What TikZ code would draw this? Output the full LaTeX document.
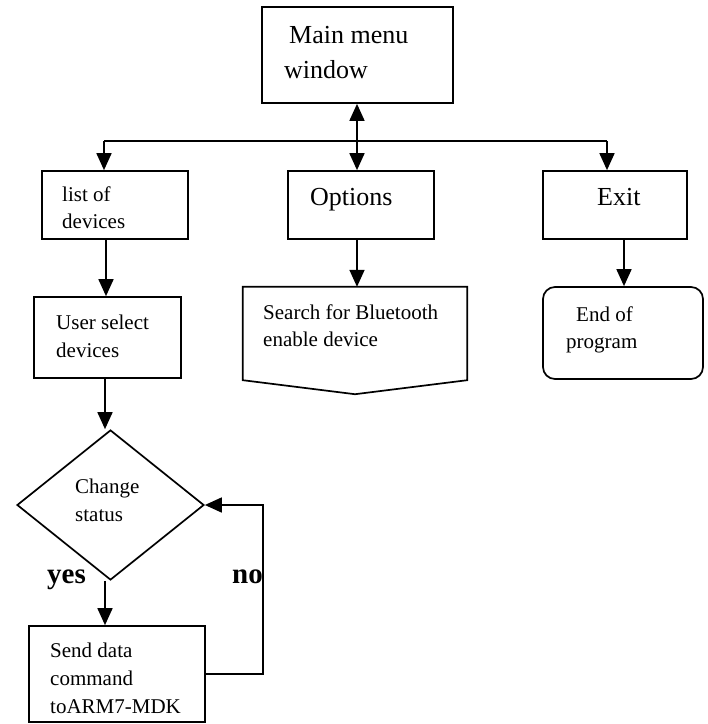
\documentclass[tikz,border=0pt]{standalone}
\usepackage{fontspec}
\setmainfont{Liberation Serif}
\usetikzlibrary{shapes.geometric,arrows.meta}
\begin{document}
\begin{tikzpicture}[x=1pt,y=-1pt,
  box/.style={draw, line width=1.7pt, inner sep=0pt},
  lbl/.style={anchor=base west, inner sep=0pt, font=\fontsize{21}{27}\selectfont},
  big/.style={anchor=base west, inner sep=0pt, font=\fontsize{26}{35}\selectfont},
  yn/.style={anchor=base west, inner sep=0pt, font=\bfseries\fontsize{29}{35}\selectfont},
  arr/.style={line width=1.7pt, -{Triangle[length=17pt,width=15pt]}},
  darr/.style={line width=1.7pt, {Triangle[length=17pt,width=15pt]}-{Triangle[length=17pt,width=15pt]}},
  line/.style={line width=1.7pt}
]
\useasboundingbox (0,0) rectangle (708,724);

% boxes
\node[box, minimum width=191pt, minimum height=96pt] (main) at (357.5,55) {};
\node[box, minimum width=146pt, minimum height=68pt] (list) at (115,205) {};
\node[box, minimum width=146pt, minimum height=68pt] (options) at (361,205) {};
\node[box, minimum width=144pt, minimum height=68pt] (exit) at (615,205) {};
\node[box, minimum width=147pt, minimum height=81pt] (user) at (107.5,337.5) {};
\node[inner sep=0pt, minimum width=224pt, minimum height=107pt] (search) at (355,340.5) {};
\draw[line] (search.north west) -- (search.north east) -- ([yshift=14pt]search.south east)
  -- (search.south) -- ([yshift=14pt]search.south west) -- cycle;
\node[box, rounded corners=12pt, minimum width=160pt, minimum height=92pt] (endp) at (623,333) {};
\node[box, shape=diamond, minimum width=187pt, minimum height=150pt] (dia) at (110.5,505) {};
\node[box, minimum width=176pt, minimum height=96pt] (send) at (117,674) {};

% texts
\node[big] (tmain1) at (289,43) {Main menu};
\node[big] (tmain2) at (284,78) {window};
\node[lbl] (tlist1) at (62,201) {list of};
\node[lbl] (tlist2) at (62,228) {devices};
\node[big] (topt) at (310,205) {Options};
\node[big] (texit) at (597,205) {Exit};
\node[lbl] (tuser1) at (56,329) {User select};
\node[lbl] (tuser2) at (56,357) {devices};
\node[lbl] (tsearch1) at (263,319) {Search for Bluetooth};
\node[lbl] (tsearch2) at (263,346) {enable device};
\node[lbl] (tend1) at (576,321) {End of};
\node[lbl] (tend2) at (566,348) {program};
\node[lbl] (tch1) at (75,493) {Change};
\node[lbl] (tch2) at (75,521) {status};
\node[lbl] (tsend1) at (50,657) {Send data};
\node[lbl] (tsend2) at (50,685) {command};
\node[lbl] (tsend3) at (50,713) {toARM7-MDK};
\node[yn] (tyes) at (47,583) {yes};
\node[yn] (tno) at (232,583) {no};

% connectors
\coordinate (hub) at (357,141);
\coordinate (colx) at (105,0);
\draw[darr] (main.south -| hub) -- (options.north -| hub);
\draw[line] ([xshift=-11pt]list.north |- hub) -- ([xshift=-8pt]exit.north |- hub);
\draw[arr] ([xshift=-11pt]list.north |- hub) -- ([xshift=-11pt]list.north);
\draw[arr] ([xshift=-8pt]exit.north |- hub) -- ([xshift=-8pt]exit.north);
\draw[arr] ([xshift=-9pt]list.south) -- ([xshift=-9pt]list.south |- user.north);
\draw[arr] (options.south -| hub) -- (search.north -| hub);
\draw[arr] ([xshift=9pt]exit.south) -- ([xshift=9pt]exit.south |- endp.north);
\draw[arr] (user.south -| colx) -- (dia.north -| colx);
\draw[arr] (dia.south -| colx) -- (send.north -| colx);
\draw[arr] (send.east) -- ++(57,0) |- (dia.east);
\end{tikzpicture}
\end{document}
